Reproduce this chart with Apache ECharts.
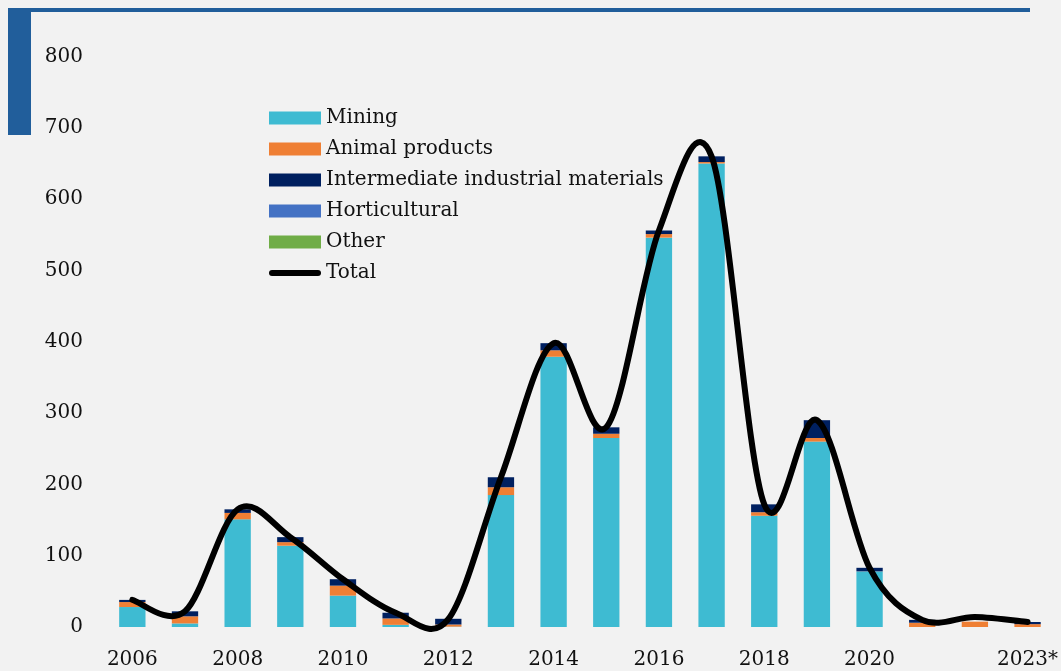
<!DOCTYPE html>
<html>
<head>
<meta charset="utf-8">
<script src="https://cdn.jsdelivr.net/npm/echarts@6/dist/echarts.min.js"></script>
<style>
  html, body { margin: 0; padding: 0; background: #f2f2f2; }
  #chart { width: 1061px; height: 671px; }
</style>
</head>
<body>
<div id="chart"></div>
<script>
// categories (years)
var years = ['2006', '2007', '2008', '2009', '2010', '2011', '2012', '2013', '2014',
	'2015', '2016', '2017', '2018', '2019', '2020', '2021', '2022', '2023*'];
// stacked segments
var mining = [28, 5, 151, 114, 44, 3, 0.5, 185, 379, 265, 546, 650, 156, 260, 78, 0, 0, 0];
var animalProducts = [7, 10, 9, 5, 14, 9, 3, 11, 9, 6, 5, 2, 5, 5, 0, 6, 7.5, 4];
var intermediate = [3, 7, 5, 7, 9, 8, 8, 14, 10, 9, 5, 8, 11, 25, 5, 4, 0, 3];
var horticultural = [0, 0, 0, 0, 0, 0, 0, 0, 0, 0, 0, 0, 0, 0, 0, 0, 0, 0];
var other = [0, 0, 0, 0, 0, 0, 0, 0, 0, 0, 0, 0, 0, 0, 0, 0, 0, 0];
// total line
var total = [38, 22, 165, 126, 67, 20, 11, 210, 398, 280, 556, 660, 172, 290, 83, 10, 14, 7];

var fontFamily = '"DejaVu Serif", serif';

function barSeries(name, data, color) {
	return {
		name: name,
		type: 'bar',
		stack: 'all',
		barWidth: '50%',
		data: data,
		itemStyle: { color: color },
		emphasis: { disabled: true }
	};
}

// smooth line like the spreadsheet one (catmull-rom through the points)
function renderTotal(params, api) {
	if (params.dataIndex !== 0) return null;
	var pts = [];
	for (var i = 0; i < total.length; i++) {
		pts.push(api.coord([i, total[i]]));
	}
	var d = 'M' + pts[0][0] + ',' + pts[0][1];
	for (var i = 0; i < pts.length - 1; i++) {
		var p0 = pts[i > 0 ? i - 1 : i];
		var p1 = pts[i];
		var p2 = pts[i + 1];
		var p3 = pts[i + 2 < pts.length ? i + 2 : i + 1];
		var c1x = p1[0] + (p2[0] - p0[0]) / 6, c1y = p1[1] + (p2[1] - p0[1]) / 6;
		var c2x = p2[0] - (p3[0] - p1[0]) / 6, c2y = p2[1] - (p3[1] - p1[1]) / 6;
		d += ' C' + c1x + ',' + c1y + ' ' + c2x + ',' + c2y + ' ' + p2[0] + ',' + p2[1];
	}
	return {
		type: 'path',
		shape: { pathData: d },
		style: { fill: null, stroke: '#000', lineWidth: 6, lineCap: 'round', lineJoin: 'round' },
		silent: true
	};
}

var myChart = echarts.init(document.getElementById('chart'));
var option = {
	backgroundColor: '#f2f2f2',
	animation: false,
	textStyle: { fontFamily: fontFamily },
	graphic: [
		{ type: 'rect', shape: { x: 8, y: 8, width: 1022, height: 4 }, style: { fill: '#215e9b' } },
		{ type: 'rect', shape: { x: 8, y: 8, width: 23, height: 127 }, style: { fill: '#215e9b' } }
	],
	legend: {
		orient: 'vertical',
		left: 264,
		top: 103,
		icon: 'rect',
		itemWidth: 52,
		itemHeight: 13,
		itemGap: 11,
		textStyle: { fontFamily: fontFamily, fontSize: 20, color: '#111' },
		data: ['Mining', 'Animal products', 'Intermediate industrial materials', 'Horticultural', 'Other',
			{ name: 'Total', icon: 'path://M3,0 L49,0 A3,3 0 0 1 49,6 L3,6 A3,3 0 0 1 3,0 Z' }]
	},
	grid: { left: 106, right: 7, top: 56.5, bottom: 44 },
	xAxis: {
		type: 'category',
		data: years,
		axisLine: { show: false },
		axisTick: { show: false },
		axisLabel: {
			fontFamily: fontFamily,
			fontSize: 20,
			color: '#111',
			margin: 23,
			interval: function (index) {
				return (index % 2 === 0 && index <= 14) || index === 17;
			}
		}
	},
	yAxis: {
		type: 'value',
		min: 0,
		max: 800,
		interval: 100,
		splitLine: { show: false },
		axisLine: { show: false },
		axisTick: { show: false },
		axisLabel: { fontFamily: fontFamily, fontSize: 20, color: '#111', margin: 23 }
	},
	series: [
		barSeries('Mining', mining, '#3ebbd2'),
		barSeries('Animal products', animalProducts, '#ef7f34'),
		barSeries('Intermediate industrial materials', intermediate, '#002060'),
		barSeries('Horticultural', horticultural, '#4472c4'),
		barSeries('Other', other, '#70ad47'),
		{
			name: 'Total',
			type: 'custom',
			renderItem: renderTotal,
			data: total.map(function (v, i) { return [i, v]; }),
			encode: { x: 0, y: 1 },
			z: 10,
			clip: false,
			itemStyle: { color: '#000' }
		}
	]
};
myChart.setOption(option);
</script>
</body>
</html>
